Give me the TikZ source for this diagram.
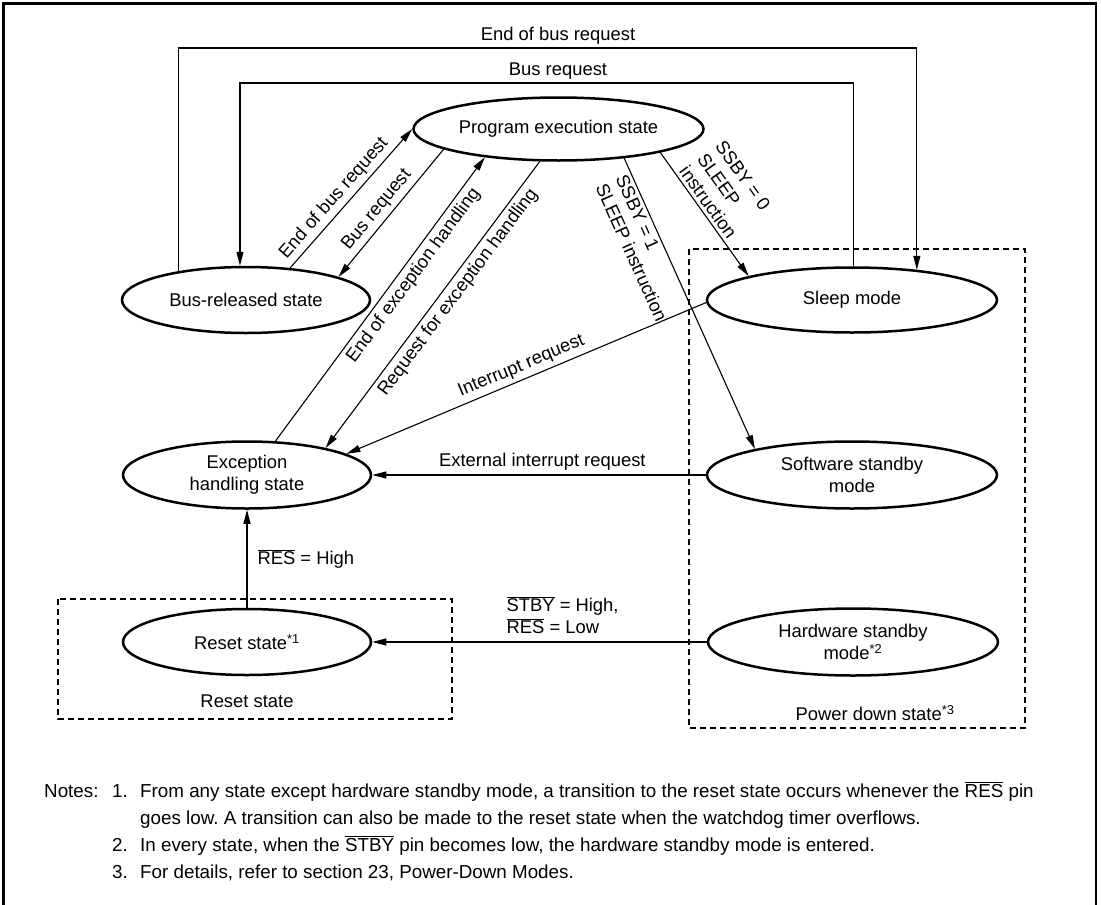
\documentclass[tikz,border=0pt]{standalone}
\usepackage{fontspec}
\setmainfont{Liberation Sans}
\usetikzlibrary{shapes.geometric,arrows.meta}
\newcommand{\ovl}[1]{$\overline{\mbox{#1}}$}
\frenchspacing
\begin{document}
\begin{tikzpicture}[x=1pt,y=-1pt,
  every node/.style={font=\fontsize{18.4}{22}\selectfont},
  st/.style={draw, line width=2.5pt, ellipse, inner sep=0pt, align=center},
  stl/.style={st, minimum width=248pt, minimum height=66pt},
  str/.style={st, minimum width=290pt, minimum height=65pt},
  conn/.style={line width=1.1pt},
  arr/.style={conn, -{Triangle[length=14pt,width=7pt]}},
  grp/.style={line width=1.1pt, dash pattern=on 6pt off 4pt},
  lab/.style={inner sep=4pt, align=left},
  note/.style={anchor=base west, inner sep=0pt, font=\fontsize{18.8}{22}\selectfont},
]
\useasboundingbox (0,0) rectangle (1101,905);
% frame
\draw[line width=2.6pt] (3.5,905) -- (3.5,3.5) -- (1096,3.5) -- (1096,905);

% group boxes
\draw[grp] (58,599) rectangle (452,719);
\draw[grp] (689,249) rectangle (1025,728);
\node (lreset) at (247,701) {Reset state};
\node (lpower) at (875,713) {Power down state\textsuperscript{*3}};

% states
\node[str, minimum height=63pt] (P) at (558.5,129) {Program execution state};
\node[stl] (B) at (246,300) {Bus-released state};
\node[str] (S) at (852,300) {Sleep mode};
\node[stl, minimum height=67pt] (E) at (247,475) {Exception\\handling state};
\node[str, minimum height=67pt] (SW) at (852,475) {Software standby\\mode};
\node[stl] (R) at (247,642) {Reset state\textsuperscript{*1}};
\node[str, minimum height=67pt] (H) at (853,642) {Hardware standby\\mode\textsuperscript{*2}};

% loops over the top
\coordinate (ot) at (558,48);
\coordinate (it) at (558,83);
\draw[arr] (B.157.8) |- (ot) node[above] (lebr) {End of bus request} -| (S.25.3);
\draw[arr] (S.88) |- (it) node[above] (lbr) {Bus request} -| (B.100);

% diagonal transitions
\draw[arr] (B.36) -- (P.180) node[lab, sloped, pos=0.44, above] (l1) {End of bus request};
\draw[arr] (P.190) -- (B.14.6) node[lab, sloped, pos=0.54, above] (l2) {Bus request};
\draw[arr] (E.50.2) -- (P.201.5) node[lab, sloped, pos=0.61, below] (l3) {End of exception handling};
\draw[arr] (P.240) -- (E.19.9) node[lab, sloped, pos=0.43, below] (l4) {Request for exception handling};
\draw[arr] (P.347.5) -- (S.167.9) node[lab, inner sep=3pt, sloped, pos=0.45, above] (l5) {SSBY = 0\\SLEEP\\instruction};
\draw[arr] (P.336.8) -- (SW.165.3) node[lab, inner sep=3pt, sloped, pos=0.28, below] (l6) {SSBY = 1\\SLEEP instruction};
\draw[arr] (S.181) -- (E.12.7) node[lab, sloped, pos=0.5, above] (l7) {Interrupt request};
\draw[arr] (SW.west) -- (E.east) node[lab, pos=0.49, above] (l8) {External interrupt request};
\draw[arr] (R.north) -- (E.south) node[lab, inner sep=0pt, midway, right=10pt] (l9) {\ovl{RES} = High};
\draw[arr] (H.west) -- (R.east) node[lab, inner sep=0pt, pos=0.6, above=8pt, anchor=south west] (l10) {\ovl{STBY} = High,\\\ovl{RES} = Low};

% notes
\node[note] (n0) at (44,797) {Notes:};
\node[note] (n1) at (112,797) {1.};
\node[note] (n1a) at (140,797) {From any state except hardware standby mode, a transition to the reset state occurs whenever the \ovl{RES} pin};
\node[note] (n1b) at (140,824) {goes low. A transition can also be made to the reset state when the watchdog timer overflows.};
\node[note] (n2) at (112,851) {2.};
\node[note] (n2a) at (140,851) {In every state, when the \ovl{STBY} pin becomes low, the hardware standby mode is entered.};
\node[note] (n3) at (112,878) {3.};
\node[note] (n3a) at (140,878) {For details, refer to section 23, Power-Down Modes.};
\end{tikzpicture}
\end{document}
